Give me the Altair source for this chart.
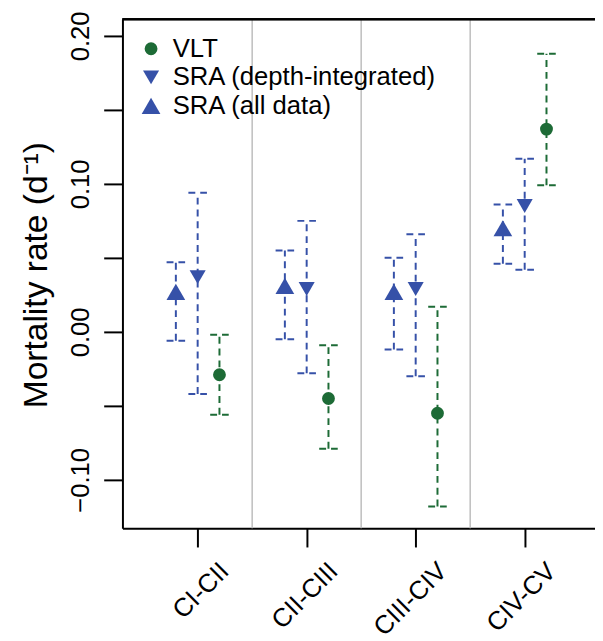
import json
import altair as alt
import pandas as pd

# ---- data ----
stages = ["CI-CII", "CII-CIII", "CIII-CIV", "CIV-CV"]
series_names = ["VLT", "SRA (depth-integrated)", "SRA (all data)"]

vlt_mean = [-0.029, -0.045, -0.055, 0.137]
vlt_lo = [-0.056, -0.079, -0.118, 0.099]
vlt_hi = [-0.002, -0.009, 0.017, 0.188]

sra_depth_mean = [0.037, 0.029, 0.029, 0.085]
sra_depth_lo = [-0.042, -0.028, -0.030, 0.042]
sra_depth_hi = [0.094, 0.075, 0.066, 0.117]

sra_all_mean = [0.027, 0.031, 0.027, 0.070]
sra_all_lo = [-0.006, -0.005, -0.012, 0.046]
sra_all_hi = [0.047, 0.055, 0.050, 0.086]

y_ticks = [-0.10, -0.05, 0.00, 0.05, 0.10, 0.15, 0.20]

GREEN = "#1d6b36"
BLUE = "#3651a8"
offsets = {"SRA (all data)": -0.2, "SRA (depth-integrated)": 0.0, "VLT": 0.2}
CAP = 0.085

rows = []
for name, m, lo, hi in [
    ("VLT", vlt_mean, vlt_lo, vlt_hi),
    ("SRA (depth-integrated)", sra_depth_mean, sra_depth_lo, sra_depth_hi),
    ("SRA (all data)", sra_all_mean, sra_all_lo, sra_all_hi),
]:
    for i, st in enumerate(stages):
        rows.append(dict(series=name, stage=st, idx=i + 1, x=i + 1 + offsets[name],
                         mean=m[i], lo=lo[i], hi=hi[i]))
df = pd.DataFrame(rows)
sep_df = pd.DataFrame({"sep": [i + 1.5 for i in range(len(stages) - 1)]})

XDOM = [0.31, 4.645]
YDOM = [-0.1327, 0.2113]
FONT = "Liberation Sans"

xscale = alt.Scale(domain=XDOM, nice=False, zero=False)
yscale = alt.Scale(domain=YDOM, nice=False, zero=False)

color_scale = alt.Scale(domain=series_names, range=[GREEN, BLUE, BLUE])
shape_scale = alt.Scale(domain=series_names, range=["circle", "triangle-down", "triangle-up"])

label_arr = json.dumps(stages)

x_axis = alt.Axis(
    values=[1, 2, 3, 4], labelExpr=f"{label_arr}[datum.value - 1]", title=None,
    grid=False, domainColor="black", domainWidth=2, tickColor="black", tickWidth=2,
    tickSize=19, labelAngle=315, labelAlign="right", labelBaseline="middle",
    labelOffset=27, labelPadding=20, labelFontSize=26, labelFont=FONT,
    labelColor="black", labelOverlap=False, labelFlush=False, labelLimit=0,
)
y_axis = alt.Axis(
    values=y_ticks,
    labelExpr="round(datum.value * 20) % 2 == 0 ? format(datum.value, '.2f') : ''",
    title="Mortality rate (d⁻¹)", titleFont=FONT, titleFontSize=34,
    titleFontWeight="normal", titleColor="black", titleAngle=270,
    titleAlign="center", titleBaseline="alphabetic", titleX=-77, titleY=259,
    grid=False, domainColor="black", domainWidth=2, tickColor="black", tickWidth=2,
    tickSize=19, labelAngle=270, labelAlign="center", labelBaseline="alphabetic",
    labelPadding=15, labelFontSize=26, labelFont=FONT, labelColor="black",
    labelOverlap=False, labelFlush=False,
)

base = alt.Chart(df).transform_calculate(
    clr=f"datum.series == 'VLT' ? '{GREEN}' : '{BLUE}'",
    xl=f"datum.x - {CAP}", xr=f"datum.x + {CAP}",
)

seps = alt.Chart(sep_df).mark_rule(color="#bdbdbd", strokeWidth=1.5).encode(
    x=alt.X("sep:Q", scale=xscale, axis=x_axis)
)
top_border = alt.Chart(sep_df).mark_rule(color="black", strokeWidth=2).encode(
    y=alt.value(0)
)

dash = [7, 5]
bars = base.mark_rule(strokeWidth=2, strokeDash=dash).encode(
    x=alt.X("x:Q", scale=xscale, axis=x_axis),
    y=alt.Y("lo:Q", scale=yscale, axis=y_axis),
    y2="hi:Q",
    color=alt.Color("clr:N", scale=None),
)
cap_hi = base.mark_rule(strokeWidth=2, strokeDash=dash).encode(
    x=alt.X("xl:Q", scale=xscale, axis=x_axis), x2="xr:Q",
    y=alt.Y("hi:Q", scale=yscale, axis=y_axis),
    color=alt.Color("clr:N", scale=None),
)
cap_lo = base.mark_rule(strokeWidth=2, strokeDash=dash).encode(
    x=alt.X("xl:Q", scale=xscale, axis=x_axis), x2="xr:Q",
    y=alt.Y("lo:Q", scale=yscale, axis=y_axis),
    color=alt.Color("clr:N", scale=None),
)

legend = alt.Legend(
    title=None, orient="none", legendX=16, legendY=17, labelFont=FONT,
    labelFontSize=26, labelColor="black", symbolSize=100, labelOffset=9,
    rowPadding=3, padding=0, symbolStrokeWidth=0, labelLimit=0,
)
points = base.mark_point(filled=True, opacity=1).encode(
    x=alt.X("x:Q", scale=xscale, axis=x_axis),
    y=alt.Y("mean:Q", scale=yscale, axis=y_axis),
    color=alt.Color("series:N", scale=color_scale, legend=legend, sort=series_names),
    shape=alt.Shape("series:N", scale=shape_scale, legend=legend, sort=series_names),
    size=alt.Size("series:N", scale=alt.Scale(domain=series_names, range=[170, 360, 360]),
                  legend=None),
)

chart = alt.layer(seps, top_border, bars, cap_hi, cap_lo, points).properties(
    width=479, height=516,
    autosize=alt.AutoSizeParams(type="none"),
    padding={"left": 116, "top": 7, "right": 0, "bottom": 110},
).configure_view(stroke=None).configure(background="white")

chart.save("out.html", embed_options={"renderer": "svg", "actions": False})
